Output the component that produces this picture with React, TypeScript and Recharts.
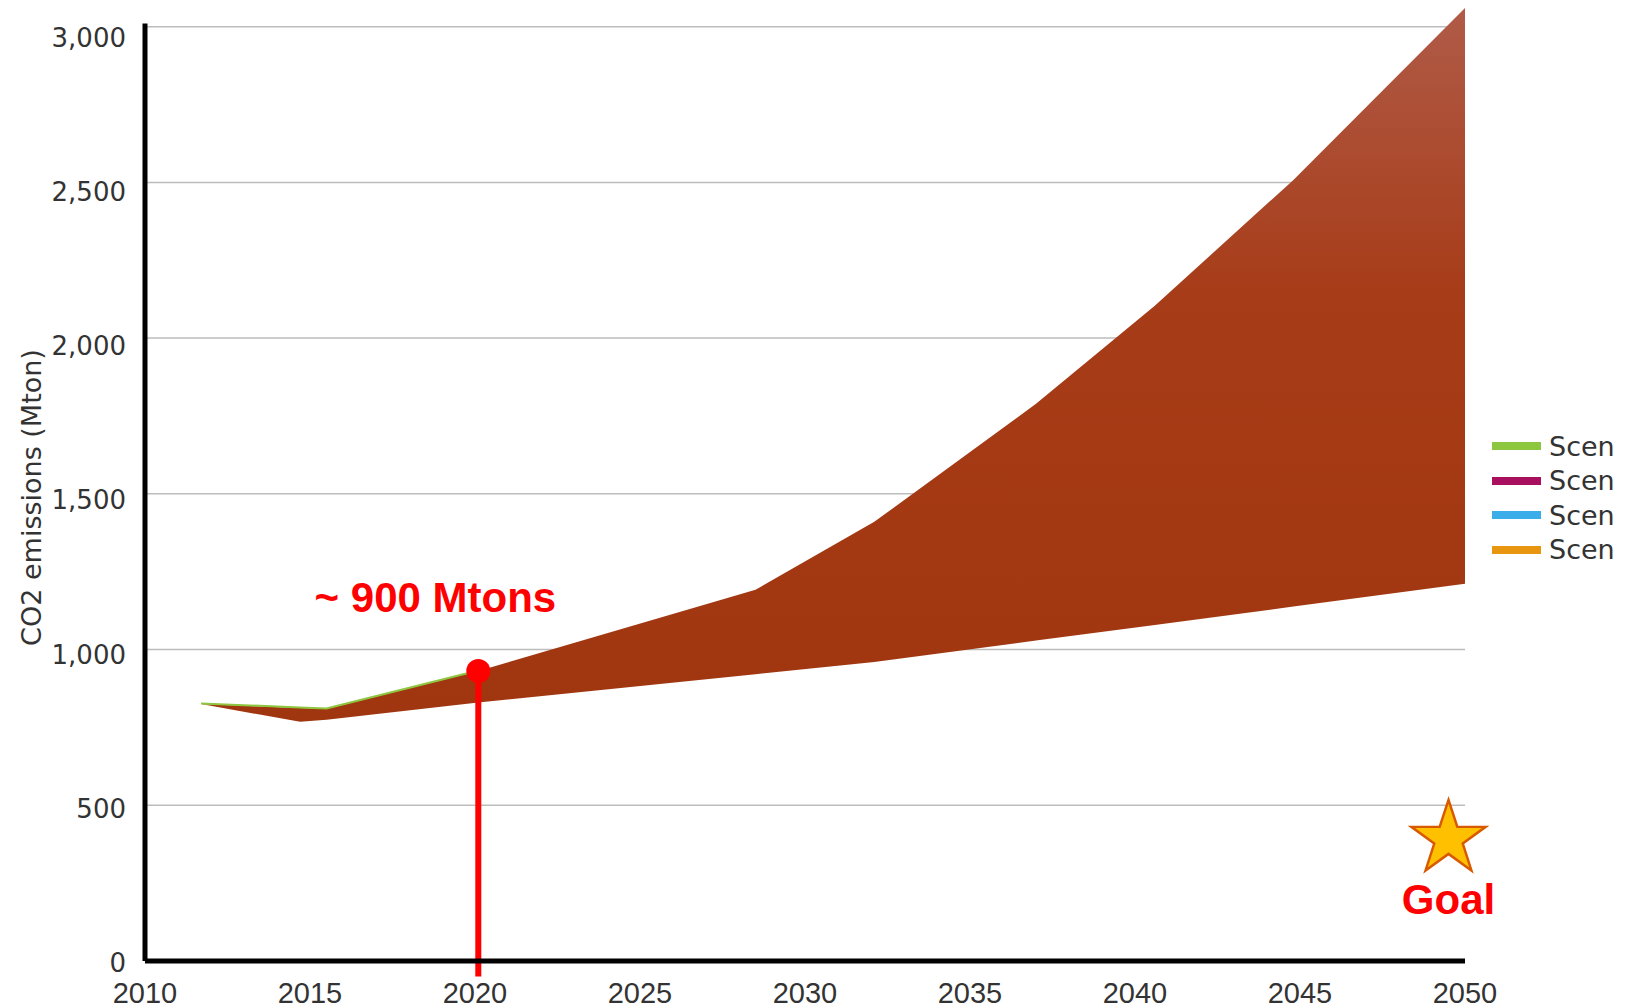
import {
  ComposedChart,
  Area,
  Line,
  Scatter,
  XAxis,
  YAxis,
  CartesianGrid,
  ReferenceLine,
  ReferenceDot,
} from "recharts";

const years = [2011.7, 2014.7, 2015.5, 2020.1, 2028.5, 2032.1, 2037, 2040.6, 2044.8, 2050];
const upper = [825, 812, 809, 931, 1192, 1410, 1789, 2104, 2508, 3060];
const lower = [825, 768, 775, 830, 921, 960, 1029, 1079, 1138, 1211];
const greenEdge = [827, 814, 811, 933, null, null, null, null, null, null];

const xTicks = [2010, 2015, 2020, 2025, 2030, 2035, 2040, 2045, 2050];
const yTicks = [0, 500, 1000, 1500, 2000, 2500, 3000];
const yMax = 3060;

// legend text is cut short in the source image
const legendNames = ["Scen", "Scen", "Scen", "Scen"];
const legendColors = ["#8DC63F", "#A8105F", "#3BAEEA", "#E8960F"];

const marker = { year: 2020.1, value: 931 };
const notes = [
  { year: 2018.8, value: 1166, text: "~ 900 Mtons" },
  { year: 2049.5, value: 196, text: "Goal" },
];
const goal = [{ year: 2049.5, value: 392 }];

const data = years.map((y, i) => ({
  year: y,
  range: [lower[i], upper[i]],
  green: greenEdge[i],
}));

const starPoints = (cx: number, cy: number, R: number, r: number) => {
  const pts: string[] = [];
  for (let i = 0; i < 10; i++) {
    const rad = i % 2 === 0 ? R : r;
    const a = -Math.PI / 2 + (i * Math.PI) / 5;
    pts.push(`${cx + rad * Math.cos(a)},${cy + rad * Math.sin(a)}`);
  }
  return pts.join(" ");
};

const renderYLabel = ({ viewBox }: any) => {
  const cy = viewBox.y + viewBox.height / 2 + 13;
  return (
    <text
      x={31}
      y={cy}
      transform={`rotate(-90, 31, ${cy})`}
      textAnchor="middle"
      dominantBaseline="central"
      fontFamily="DejaVu Sans"
      fontSize={27}
      fill="#333"
    >
      CO2 emissions (Mton)
    </text>
  );
};

// tick labels in the source sit a little lower the higher they go
const YTick = ({ x, y, payload }: any) => (
  <text
    x={x}
    y={y + 2 + (payload.value / 3000) * 9}
    textAnchor="end"
    dominantBaseline="central"
    fontFamily="DejaVu Sans"
    fontSize={26}
    fill="#333"
  >
    {Number(payload.value).toLocaleString("en-US")}
  </text>
);

// only the tick rows, no line along the top edge of the plot
const gridRows = ({ offset }: any) =>
  yTicks.filter((t) => t > 0).map((t) => offset.top + offset.height * (1 - t / yMax));

export default function App() {
  return (
    <div style={{ position: "relative", width: 1645, height: 1008, overflow: "hidden", background: "#fff" }}>
      <style>{"body{margin:0}"}</style>
      <ComposedChart
        width={1645}
        height={1008}
        data={data}
        margin={{ top: 8, right: 180, bottom: 7, left: 8 }}
      >
        <defs>
          <linearGradient id="bandFill" x1="0" y1="0" x2="0" y2="1">
            <stop offset="0" stopColor="#B05B48" />
            <stop offset="0.4" stopColor="#A73C18" />
            <stop offset="1" stopColor="#A0360F" />
          </linearGradient>
        </defs>
        <CartesianGrid
          horizontal
          vertical={false}
          stroke="#BDBDBD"
          strokeWidth={1.5}
          horizontalCoordinatesGenerator={gridRows}
        />
        <XAxis
          dataKey="year"
          type="number"
          domain={[2010, 2050]}
          ticks={xTicks}
          height={40}
          tickLine={false}
          tickSize={0}
          tickMargin={21}
          axisLine={{ stroke: "#000", strokeWidth: 5 }}
          tick={{ fontFamily: "Liberation Sans", fontSize: 29, fill: "#333" }}
        />
        <YAxis
          type="number"
          domain={[0, yMax]}
          ticks={yTicks}
          width={137}
          axisLine={false}
          tickLine={false}
          tickSize={0}
          tickMargin={19}
          tick={<YTick />}
          label={{ content: renderYLabel }}
        />
        <Line
          dataKey="green"
          type="linear"
          stroke="#8DC63F"
          strokeWidth={2}
          dot={false}
          connectNulls={false}
          isAnimationActive={false}
        />
        <Area
          dataKey="range"
          type="linear"
          fill="url(#bandFill)"
          fillOpacity={1}
          stroke="none"
          isAnimationActive={false}
        />
        <ReferenceLine
          segment={[{ x: 2010, y: 0 }, { x: 2010, y: 3010 }]}
          stroke="#000"
          strokeWidth={5}
          ifOverflow="visible"
        />
        <ReferenceLine
          segment={[{ x: marker.year, y: marker.value }, { x: marker.year, y: -50 }]}
          stroke="#FF0000"
          strokeWidth={6}
          ifOverflow="visible"
        />
        <ReferenceDot x={marker.year} y={marker.value} r={12} fill="#FF0000" stroke="none" ifOverflow="visible" />
        <Scatter
          data={goal}
          dataKey="value"
          isAnimationActive={false}
          shape={(p: any) => (
            <polygon
              points={starPoints(p.cx, p.cy, 39, 15)}
              fill="#FFC000"
              stroke="#D85A00"
              strokeWidth={2.5}
            />
          )}
        />
        <Scatter
          data={notes}
          dataKey="value"
          isAnimationActive={false}
          shape={(p: any) => (
            <text
              x={p.cx}
              y={p.cy}
              textAnchor="middle"
              dominantBaseline="central"
              fontFamily="Liberation Sans"
              fontWeight="bold"
              fontSize={42}
              fill="#FF0000"
            >
              {p.payload.text}
            </text>
          )}
        />
      </ComposedChart>
      <div
        style={{
          position: "absolute",
          left: 1492,
          top: 429,
          fontFamily: "DejaVu Sans",
          fontSize: 27,
          color: "#333",
        }}
      >
        {legendNames.map((n, i) => (
          <div key={i} style={{ display: "flex", alignItems: "center", height: 34.5, whiteSpace: "nowrap" }}>
            <span style={{ display: "inline-block", width: 49, height: 8, background: legendColors[i], marginRight: 8 }} />
            {n}
          </div>
        ))}
      </div>
    </div>
  );
}
